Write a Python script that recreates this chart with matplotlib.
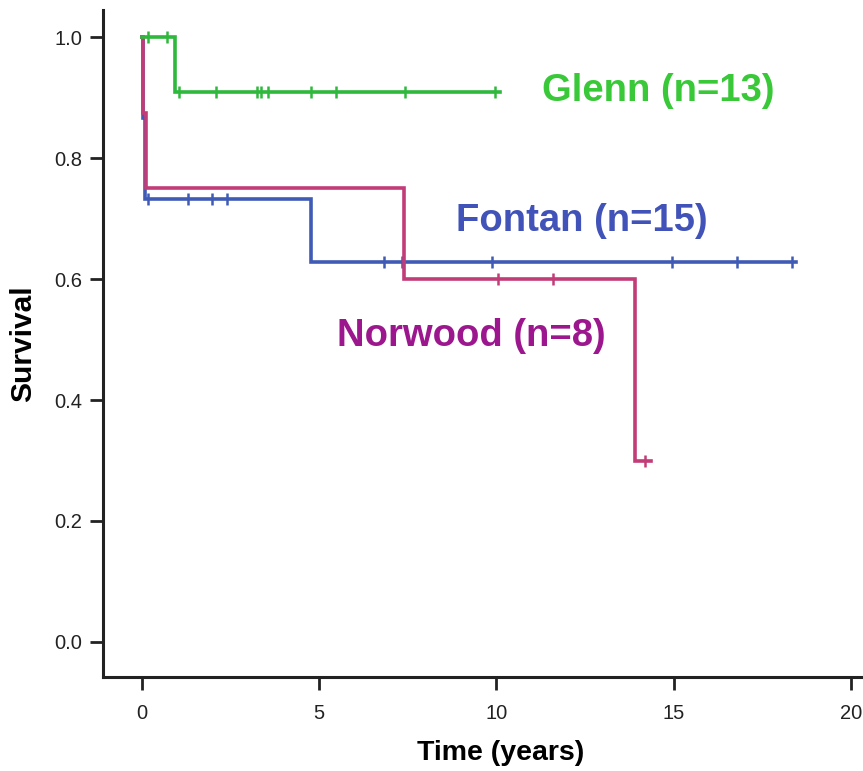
import numpy as np
import matplotlib
matplotlib.use("Agg")
import matplotlib.pyplot as plt

# ---- data ----
groups = ["Fontan", "Norwood", "Glenn"]
labels = ["Fontan (n=15)", "Norwood (n=8)", "Glenn (n=13)"]

fontan_step_t = [0.0, 0.02, 0.08, 4.77]
fontan_step_s = [1.0, 0.867, 0.733, 0.628]
fontan_end = 18.45
fontan_cens = [0.17, 1.3, 1.97, 2.4, 6.84, 7.35, 9.89, 14.97, 16.8, 18.33]

norwood_step_t = [0.0, 0.02, 0.1, 7.4, 13.9]
norwood_step_s = [1.0, 0.875, 0.75, 0.6, 0.3]
norwood_end = 14.35
norwood_cens = [10.05, 11.6, 14.2]

glenn_step_t = [0.0, 0.93]
glenn_step_s = [1.0, 0.909]
glenn_end = 10.1
glenn_cens = [0.17, 0.7, 1.05, 2.1, 3.25, 3.35, 3.55, 4.77, 5.48, 7.43, 9.97]

x_ticks = [0, 5, 10, 15, 20]
y_ticks = [0.0, 0.2, 0.4, 0.6, 0.8, 1.0]

# ---- styles ----
line_colors = ["#3F5BB5", "#C23C78", "#2EB83C"]
text_colors = ["#4152B8", "#9C178E", "#38C838"]
label_pos = [(8.86, 0.696), (5.5, 0.506), (11.28, 0.911)]

series = [
    (fontan_step_t, fontan_step_s, fontan_end, fontan_cens),
    (norwood_step_t, norwood_step_s, norwood_end, norwood_cens),
    (glenn_step_t, glenn_step_s, glenn_end, glenn_cens),
]

fig = plt.figure(figsize=(8.63, 7.71), dpi=100)
left, bottom, top = 103 / 863, (771 - 677) / 771, (771 - 10) / 771
ax = fig.add_axes([left, bottom, 1 - left + 0.001, top - bottom])

for (st, ss, end, cens), lc in zip(series, line_colors):
    t = list(st) + [end]
    s = list(ss) + [ss[-1]]
    ax.step(t, s, where="post", color=lc, lw=2.6, solid_joinstyle="miter", zorder=3)
    st_arr = np.array(st)
    cs = [ss[np.searchsorted(st_arr, c, side="right") - 1] for c in cens]
    ax.plot(cens, cs, linestyle="none", marker="|", markersize=9, mew=1.8,
            color=lc, zorder=3)

for lab, tc, (lx, ly) in zip(labels, text_colors, label_pos):
    ax.text(lx, ly, lab, color=tc, fontsize=27.5, fontweight="bold",
            family="Liberation Sans", ha="left", va="center")

ax.set_xlim(-1.1, 20.37)
ax.set_ylim(-0.058, 1.045)
ax.set_xticks(x_ticks)
ax.set_yticks(y_ticks)
ax.set_yticklabels([f"{v:.1f}" for v in y_ticks], family="Liberation Sans",
                   fontsize=14.5, color="#222222")
ax.set_xticklabels([str(v) for v in x_ticks], family="Liberation Sans",
                   fontsize=14.5, color="#222222")

for side in ["top", "right"]:
    ax.spines[side].set_visible(False)
for side in ["left", "bottom"]:
    ax.spines[side].set_linewidth(2.2)
    ax.spines[side].set_color("#222222")

ax.tick_params(axis="both", direction="out", length=9.5, width=2.0, color="#222222")
ax.tick_params(axis="x", pad=10)
ax.tick_params(axis="y", pad=5.5)

ax.set_xlabel("Time (years)", fontsize=20.5, fontweight="bold",
              family="Liberation Sans")
ax.xaxis.set_label_coords(0.522, -0.095)
ax.set_ylabel("Survival", fontsize=21.5, fontweight="bold",
              family="Liberation Sans", labelpad=12)

fig.savefig("out.png", dpi=100)
